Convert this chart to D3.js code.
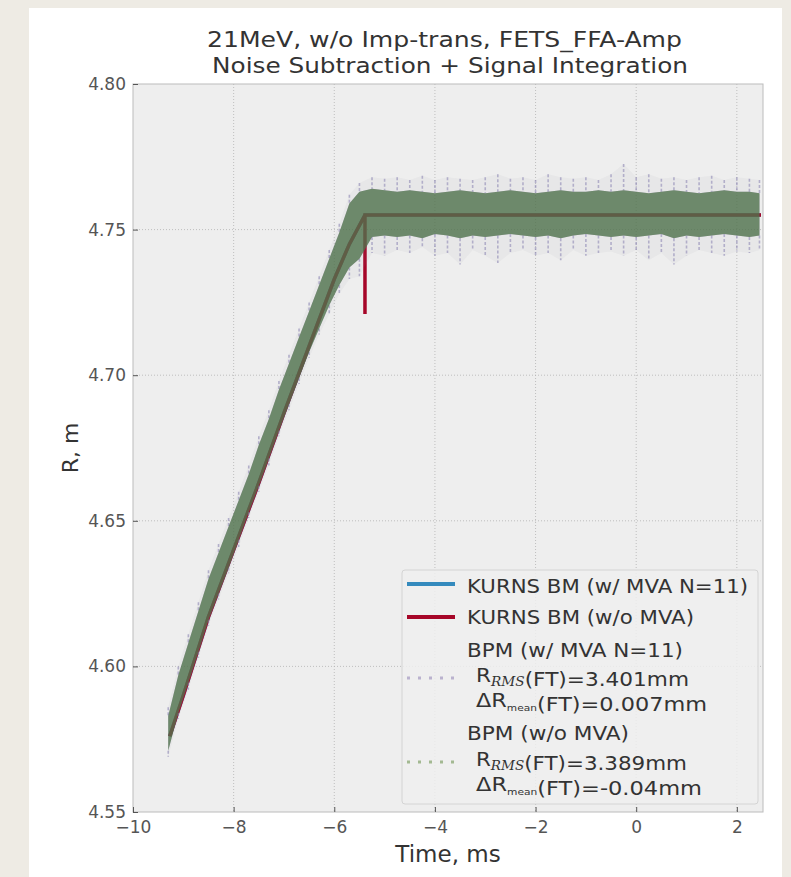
<!DOCTYPE html>
<html><head><meta charset="utf-8">
<script src="https://cdn.jsdelivr.net/npm/d3@7"></script>
<style>
body{margin:0;background:#eeebe4;}
svg{display:block;font-family:"DejaVu Sans",sans-serif;}
</style>
</head><body>
<svg id="chart" width="791" height="877"></svg>
<script>
// ---------------- data ----------------
const titleLines = ["21MeV, w/o Imp-trans, FETS_FFA-Amp", "Noise Subtraction + Signal Integration"];
const xLabel = "Time, ms";
const yLabel = "R, m";
const xTicks = [-10, -8, -6, -4, -2, 0, 2];
const yTicks = [4.55, 4.60, 4.65, 4.70, 4.75, 4.80];

// KURNS BM (w/ MVA N=11)
const kurnsMvaT = [-9.27, -9.0, -8.5, -8.0, -7.5, -7.0, -6.5, -6.0, -5.7, -5.39, 2.48];
const kurnsMvaR = [4.576, 4.590, 4.617, 4.640, 4.663, 4.687, 4.710, 4.733, 4.745, 4.755, 4.755];
// KURNS BM (w/o MVA) — includes drop at end of ramp
const kurnsT = [-9.27, -9.0, -8.5, -8.0, -7.5, -7.0, -6.5, -6.0, -5.7, -5.39, -5.39, -5.39, 2.48];
const kurnsR = [4.576, 4.590, 4.617, 4.640, 4.663, 4.687, 4.710, 4.733, 4.745, 4.755, 4.721, 4.755, 4.755];

// BPM scatter envelopes (dense band low/high, sparse outlier low/high)
const bpmT = [-9.3, -9.1, -8.9, -8.7, -8.5, -8.3, -8.1, -7.9, -7.7, -7.5, -7.3, -7.1, -6.9, -6.7, -6.5, -6.3, -6.1, -5.9, -5.7, -5.5,
  -5.25, -5.0, -4.75, -4.5, -4.25, -4.0, -3.75, -3.5, -3.25, -3.0, -2.75, -2.5, -2.25, -2.0, -1.75, -1.5, -1.25, -1.0, -0.75, -0.5, -0.25,
  0.0, 0.25, 0.5, 0.75, 1.0, 1.25, 1.5, 1.75, 2.0, 2.25, 2.45];
const bpmLo = [4.571, 4.584, 4.5945, 4.605, 4.616, 4.625, 4.634, 4.6435, 4.653, 4.662, 4.6715, 4.681, 4.690, 4.699, 4.708, 4.716, 4.724, 4.731, 4.737, 4.740,
  4.7475, 4.748, 4.7475, 4.748, 4.747, 4.7485, 4.748, 4.747, 4.748, 4.7475, 4.748, 4.7485, 4.748, 4.7475, 4.748, 4.747, 4.748, 4.7485, 4.748, 4.7475,
  4.748, 4.7475, 4.748, 4.7485, 4.747, 4.748, 4.7475, 4.748, 4.7485, 4.748, 4.7475, 4.748];
const bpmHi = [4.583, 4.597, 4.608, 4.619, 4.630, 4.639, 4.648, 4.657, 4.666, 4.676, 4.685, 4.695, 4.704, 4.713, 4.722, 4.731, 4.740, 4.749, 4.759, 4.763,
  4.764, 4.7635, 4.763, 4.7635, 4.763, 4.7625, 4.763, 4.7635, 4.763, 4.7625, 4.763, 4.7635, 4.763, 4.7625, 4.763, 4.7635, 4.763, 4.763, 4.7635, 4.763,
  4.7635, 4.763, 4.7625, 4.763, 4.7635, 4.763, 4.7625, 4.763, 4.7635, 4.763, 4.763, 4.7625];
const bpmOutLo = [4.569, 4.582, 4.592, 4.603, 4.614, 4.623, 4.632, 4.641, 4.651, 4.660, 4.669, 4.679, 4.688, 4.697, 4.706, 4.714, 4.721, 4.728, 4.733, 4.734,
  4.742, 4.741, 4.743, 4.742, 4.744, 4.741, 4.742, 4.738, 4.743, 4.741, 4.7385, 4.742, 4.743, 4.741, 4.742, 4.7395, 4.743, 4.741, 4.742, 4.7425,
  4.741, 4.743, 4.7395, 4.742, 4.738, 4.741, 4.743, 4.742, 4.741, 4.7425, 4.742, 4.743];
const bpmOutHi = [4.586, 4.600, 4.611, 4.622, 4.633, 4.642, 4.651, 4.660, 4.669, 4.679, 4.688, 4.698, 4.707, 4.716, 4.725, 4.734, 4.743, 4.752, 4.762, 4.766,
  4.768, 4.7675, 4.768, 4.767, 4.7685, 4.767, 4.768, 4.7675, 4.767, 4.768, 4.769, 4.7675, 4.768, 4.767, 4.769, 4.768, 4.7675, 4.768, 4.767, 4.769,
  4.7725, 4.768, 4.769, 4.7675, 4.768, 4.767, 4.768, 4.7685, 4.767, 4.768, 4.7675, 4.767];

const legendItems = [
  {kind: "line", color: "#348ABD", lines: [[{t: "KURNS BM (w/ MVA N=11)"}]]},
  {kind: "line", color: "#A60628", lines: [[{t: "KURNS BM (w/o MVA)"}]]},
  {kind: "dots", color: "#7A68A6", lines: [
    [{t: "BPM (w/ MVA N=11)"}],
    [{t: "R"}, {t: "RMS", sub: "rms"}, {t: "(FT)=3.401mm"}],
    [{t: "\u0394R"}, {t: "mean", sub: "mean"}, {t: "(FT)=0.007mm"}]]},
  {kind: "dots", color: "#467821", lines: [
    [{t: "BPM (w/o MVA)"}],
    [{t: "R"}, {t: "RMS", sub: "rms"}, {t: "(FT)=3.389mm"}],
    [{t: "\u0394R"}, {t: "mean", sub: "mean"}, {t: "(FT)=-0.04mm"}]]}
];

// ---------------- drawing ----------------
const svg = d3.select("#chart");
const W = 791, H = 877;
const plot = {l: 133, r: 763, t: 84, b: 812};

svg.append("rect").attr("x", 29).attr("y", 8).attr("width", 753).attr("height", H - 8).attr("fill", "#ffffff");

const x = d3.scaleLinear().domain([-10, 2.52]).range([plot.l, plot.r]);
const y = d3.scaleLinear().domain([4.55, 4.80]).range([plot.b, plot.t]);

svg.append("rect").attr("x", plot.l).attr("y", plot.t).attr("width", plot.r - plot.l).attr("height", plot.b - plot.t)
  .attr("fill", "#eeeeee");

// grid
const grid = svg.append("g");
grid.selectAll("line.gx").data(xTicks.filter(d => d > -10)).join("line")
  .attr("x1", d => x(d)).attr("x2", d => x(d)).attr("y1", plot.t).attr("y2", plot.b)
  .attr("stroke", "#b2b2b2").attr("stroke-width", 0.8).attr("stroke-dasharray", "1,2");
grid.selectAll("line.gy").data(yTicks.filter(d => d > 4.551 && d < 4.799)).join("line")
  .attr("y1", d => y(d)).attr("y2", d => y(d)).attr("x1", plot.l).attr("x2", plot.r)
  .attr("stroke", "#b2b2b2").attr("stroke-width", 0.8).attr("stroke-dasharray", "1,2");

svg.append("clipPath").attr("id", "clip").append("rect")
  .attr("x", plot.l).attr("y", plot.t).attr("width", plot.r - plot.l).attr("height", plot.b - plot.t);
const g = svg.append("g").attr("clip-path", "url(#clip)");

// KURNS lines
const line = d3.line().x(d => x(d[0])).y(d => y(d[1]));
g.append("path").datum(d3.zip(kurnsMvaT, kurnsMvaR)).attr("d", line)
  .attr("fill", "none").attr("stroke", "#348ABD").attr("stroke-width", 3.5);
g.append("path").datum(d3.zip(kurnsT, kurnsR)).attr("d", line)
  .attr("fill", "none").attr("stroke", "#A60628").attr("stroke-width", 3.5).attr("stroke-linejoin", "miter");

// BPM scatter envelopes
const bpm = bpmT.map((t, i) => ({t, lo: bpmLo[i], hi: bpmHi[i], olo: bpmOutLo[i], ohi: bpmOutHi[i]}));
const areaOut = d3.area().x(d => x(d.t)).y0(d => y(d.olo)).y1(d => y(d.ohi));
g.append("path").datum(bpm).attr("d", areaOut).attr("fill", "#8a8fa0").attr("opacity", 0.07);
// outliers as sparse vertical dashes
g.selectAll("line.ou").data(bpm).join("line")
  .attr("x1", d => x(d.t)).attr("x2", d => x(d.t)).attr("y1", d => y(d.ohi)).attr("y2", d => y(d.hi))
  .attr("stroke", "#8f89b6").attr("stroke-width", 1.6).attr("stroke-dasharray", "3,2").attr("opacity", 0.6);
g.selectAll("line.ol").data(bpm).join("line")
  .attr("x1", d => x(d.t)).attr("x2", d => x(d.t)).attr("y1", d => y(d.lo)).attr("y2", d => y(d.olo))
  .attr("stroke", "#8f89b6").attr("stroke-width", 1.6).attr("stroke-dasharray", "3,2").attr("opacity", 0.6);
const area = d3.area().x(d => x(d.t)).y0(d => y(d.lo)).y1(d => y(d.hi));
g.append("path").datum(bpm).attr("d", area).attr("fill", "#7A68A6").attr("opacity", 0.5);
g.append("path").datum(bpm).attr("d", area).attr("fill", "#41742d").attr("opacity", 0.6);

// frame
svg.append("rect").attr("x", plot.l).attr("y", plot.t).attr("width", plot.r - plot.l).attr("height", plot.b - plot.t)
  .attr("fill", "none").attr("stroke", "#bcbcbc").attr("stroke-width", 1);

// axes
const fmtX = d => (d < 0 ? "\u2212" + Math.abs(d) : String(d));
const xAxis = d3.axisBottom(x).tickValues(xTicks).tickFormat(fmtX).tickSize(-5).tickPadding(9);
const yAxis = d3.axisLeft(y).tickValues(yTicks).tickFormat(d3.format(".2f")).tickSize(-5).tickPadding(7);
const gx = svg.append("g").attr("transform", `translate(0,${plot.b})`).call(xAxis);
const gy = svg.append("g").attr("transform", `translate(${plot.l},0)`).call(yAxis);
[gx, gy].forEach(a => {
  a.select(".domain").remove();
  a.selectAll(".tick line").attr("stroke", "#555555").attr("stroke-width", 1);
  a.selectAll(".tick text").attr("fill", "#555555").attr("font-size", 17).attr("font-family", "DejaVu Sans");
});
gx.selectAll(".tick text").attr("dy", "0.71em");

// titles
svg.append("text").attr("x", 207).attr("y", 47).attr("font-size", 22)
  .attr("textLength", 475).attr("lengthAdjust", "spacingAndGlyphs")
  .attr("fill", "#333333").text(titleLines[0]);
svg.append("text").attr("x", 212).attr("y", 73).attr("font-size", 22)
  .attr("textLength", 476).attr("lengthAdjust", "spacingAndGlyphs")
  .attr("fill", "#333333").text(titleLines[1]);
svg.append("text").attr("x", 448).attr("y", 862).attr("text-anchor", "middle").attr("font-size", 23)
  .attr("fill", "#333333").text(xLabel);
svg.append("text").attr("transform", "translate(78,448) rotate(-90)").attr("text-anchor", "middle").attr("font-size", 22)
  .attr("fill", "#333333").text(yLabel);

// legend
const lg = svg.append("g");
lg.append("rect").attr("x", 402).attr("y", 570).attr("width", 356).attr("height", 234).attr("rx", 3)
  .attr("fill", "#eeeeee").attr("fill-opacity", 0.85).attr("stroke", "#d4d4d4");
const baselines = [[593], [624], [657, 682, 707], [740, 766, 791]];
const textX = [[467], [467], [467, 476, 476], [467, 476, 476]];
const textW = [[281], [227], [216, 213, 231], [162, 211, 226]];
const markerY = [584, 617, 678, 762];
legendItems.forEach((it, i) => {
  if (it.kind === "line") {
    lg.append("line").attr("x1", 407).attr("x2", 455).attr("y1", markerY[i]).attr("y2", markerY[i])
      .attr("stroke", it.color).attr("stroke-width", 4);
  } else {
    lg.selectAll(null).data([0, 1, 2, 3, 4]).join("rect")
      .attr("x", k => 407 + k * 11).attr("y", markerY[i] - 1.5).attr("width", 3).attr("height", 3)
      .attr("fill", it.color).attr("opacity", 0.45);
  }
  it.lines.forEach((ln, j) => {
    const tx = lg.append("text").attr("x", textX[i][j]).attr("y", baselines[i][j]).attr("font-size", 19).attr("fill", "#333333")
      .attr("textLength", textW[i][j]).attr("lengthAdjust", "spacingAndGlyphs");
    ln.forEach(p => {
      if (p.sub === "rms") {
        tx.append("tspan").attr("font-family", "DejaVu Serif").attr("font-style", "italic").attr("font-size", 12)
          .attr("dy", 4).text(p.t);
        tx.append("tspan").attr("dy", -4).text("");
      } else if (p.sub === "mean") {
        tx.append("tspan").attr("font-size", 9).attr("dy", 4).text(p.t);
        tx.append("tspan").attr("dy", -4).text("");
      } else {
        tx.append("tspan").text(p.t);
      }
    });
  });
});
</script>
</body></html>
